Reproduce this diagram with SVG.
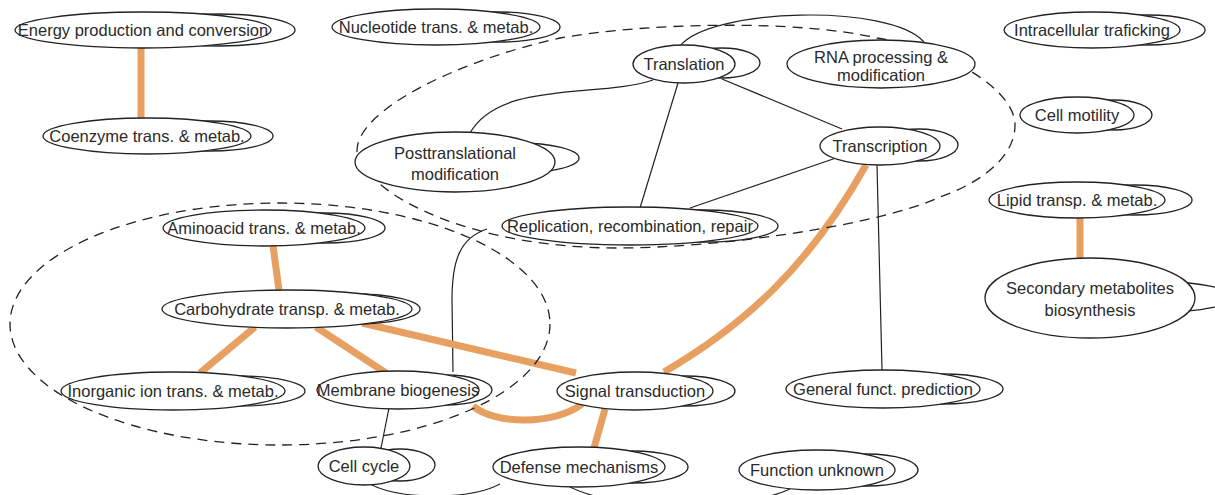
<svg xmlns="http://www.w3.org/2000/svg" width="1215" height="495" viewBox="0 0 1215 495">
<style>
.bg{fill:#ffffff}
.main{fill:#ffffff;stroke:#222;stroke-width:1.3}
.loop{fill:none;stroke:#222;stroke-width:1.3}
.lbl{font-family:"Liberation Sans",Arial,sans-serif;font-size:16.5px;fill:#2a2a2a;text-anchor:middle}
.thin{fill:none;stroke:#222;stroke-width:1.2}
.thick{fill:none;stroke:#E8A062;stroke-width:7}
.cluster{fill:none;stroke:#222;stroke-width:1.3;stroke-dasharray:10 7}
</style>
<rect class="bg" x="0" y="0" width="1215" height="495"/>
<g id="connectors">
<path class="thin" d="M653,80 C600,98 500,80 470,133"/>
<path class="thin" d="M678,83 L640,208"/>
<path class="thin" d="M722,79 L842,129"/>
<path class="thin" d="M680,46 C710,8 890,3 924,42"/>
<path class="thin" d="M836,158 L690,208"/>
<path class="thin" d="M877,165 L882,370"/>
<path class="thin" d="M487,229 C460,238 452,260 452,300 L453,372"/>
<path class="thin" d="M389,408 L381,448"/>
<path class="thin" d="M370,484 C400,500 470,500 500,484"/>
<path class="thin" d="M570,487 C620,512 740,512 790,489"/>
<path class="thick" d="M141,48 L141,118"/>
<path class="thick" d="M273,246 L279,290"/>
<path class="thick" d="M255,327 L200,373"/>
<path class="thick" d="M316,327 L386,373"/>
<path class="thick" d="M362,323 L576,373"/>
<path class="thick" d="M473,406 C495,425 555,425 582,404"/>
<path class="thick" d="M866,165 C810,265 745,325 664,372"/>
<path class="thick" d="M605,409 L594,448"/>
<path class="thick" d="M1080,218 L1080,259"/>
</g>
<g id="clusters">
<ellipse class="cluster" cx="280" cy="324" rx="270" ry="121"/>
<path class="cluster" d="M357,152 C355,110 460,60 560,38 C650,22 800,20 877,38 C950,50 1015,90 1015,125 C1015,160 975,185 940,197 C880,225 720,248 617,248 C480,248 370,200 357,152 Z"/>
</g>
<g id="energy"><ellipse class="loop" cx="219" cy="30" rx="76" ry="16"/><ellipse class="main" cx="143" cy="30" rx="128" ry="18"/><text class="lbl" x="143" y="36">Energy production and conversion</text></g>
<g id="coenzyme"><ellipse class="loop" cx="210" cy="136" rx="63" ry="15"/><ellipse class="main" cx="147" cy="136" rx="104" ry="18"/><text class="lbl" x="147" y="142">Coenzyme trans. &amp; metab.</text></g>
<g id="nucleotide"><ellipse class="loop" cx="498" cy="27" rx="62" ry="15"/><ellipse class="main" cx="436" cy="27" rx="104" ry="18"/><text class="lbl" x="436" y="33">Nucleotide trans. &amp; metab.</text></g>
<g id="translation"><ellipse class="loop" cx="722" cy="63" rx="38" ry="15"/><ellipse class="main" cx="684" cy="64" rx="51" ry="19"/><text class="lbl" x="684" y="70">Translation</text></g>
<g id="rna"><ellipse class="main" cx="881" cy="64" rx="94" ry="24"/><text class="lbl" x="881" y="63">RNA processing &amp;</text><text class="lbl" x="881" y="81">modification</text></g>
<g id="intracellular"><ellipse class="loop" cx="1148" cy="30" rx="57" ry="15"/><ellipse class="main" cx="1092" cy="30" rx="88" ry="18"/><text class="lbl" x="1092" y="36">Intracellular traficking</text></g>
<g id="motility"><ellipse class="loop" cx="1114" cy="115" rx="38" ry="15"/><ellipse class="main" cx="1077" cy="115" rx="57" ry="18"/><text class="lbl" x="1077" y="121">Cell motility</text></g>
<g id="transcription"><ellipse class="loop" cx="919" cy="145" rx="39" ry="16"/><ellipse class="main" cx="880" cy="146" rx="60" ry="19"/><text class="lbl" x="880" y="152">Transcription</text></g>
<g id="posttranslational"><ellipse class="loop" cx="517" cy="158" rx="62" ry="15"/><ellipse class="main" cx="455" cy="162" rx="100" ry="30"/><text class="lbl" x="455" y="159">Posttranslational</text><text class="lbl" x="455" y="180">modification</text></g>
<g id="lipid"><ellipse class="loop" cx="1135" cy="200" rx="57" ry="15"/><ellipse class="main" cx="1077" cy="200" rx="88" ry="18"/><text class="lbl" x="1077" y="206">Lipid transp. &amp; metab.</text></g>
<g id="secondary"><ellipse class="loop" cx="1162" cy="297" rx="70" ry="15"/><ellipse class="main" cx="1090" cy="298" rx="105" ry="40"/><text class="lbl" x="1090" y="294">Secondary metabolites</text><text class="lbl" x="1090" y="316">biosynthesis</text></g>
<g id="aminoacid"><ellipse class="loop" cx="325" cy="228" rx="60" ry="15"/><ellipse class="main" cx="264" cy="228" rx="101" ry="18"/><text class="lbl" x="264" y="234">Aminoacid trans. &amp; metab.</text></g>
<g id="replication"><ellipse class="loop" cx="704" cy="226" rx="74" ry="16"/><ellipse class="main" cx="630" cy="226" rx="128" ry="19"/><text class="lbl" x="630" y="232">Replication, recombination, repair</text></g>
<g id="carbohydrate"><ellipse class="loop" cx="354" cy="309" rx="66" ry="15"/><ellipse class="main" cx="287" cy="309" rx="125" ry="19"/><text class="lbl" x="287" y="315">Carbohydrate transp. &amp; metab.</text></g>
<g id="inorganic"><ellipse class="loop" cx="239" cy="391" rx="66" ry="15"/><ellipse class="main" cx="173" cy="391" rx="112" ry="19"/><text class="lbl" x="173" y="397">Inorganic ion trans. &amp; metab.</text></g>
<g id="membrane"><ellipse class="loop" cx="445" cy="390" rx="47" ry="15"/><ellipse class="main" cx="398" cy="390" rx="81" ry="19"/><text class="lbl" x="398" y="396">Membrane biogenesis</text></g>
<g id="signal"><ellipse class="loop" cx="685" cy="391" rx="50" ry="15"/><ellipse class="main" cx="635" cy="391" rx="78" ry="19"/><text class="lbl" x="635" y="397">Signal transduction</text></g>
<g id="general"><ellipse class="loop" cx="943" cy="389" rx="60" ry="15"/><ellipse class="main" cx="883" cy="389" rx="97" ry="19"/><text class="lbl" x="883" y="395">General funct. prediction</text></g>
<g id="cellcycle"><ellipse class="loop" cx="400" cy="465" rx="35" ry="16"/><ellipse class="main" cx="364" cy="466" rx="46" ry="19"/><text class="lbl" x="364" y="472">Cell cycle</text></g>
<g id="defense"><ellipse class="loop" cx="633" cy="467" rx="55" ry="16"/><ellipse class="main" cx="579" cy="467" rx="86" ry="20"/><text class="lbl" x="579" y="473">Defense mechanisms</text></g>
<g id="unknown"><ellipse class="loop" cx="867" cy="470" rx="51" ry="16"/><ellipse class="main" cx="817" cy="470" rx="78" ry="20"/><text class="lbl" x="817" y="476">Function unknown</text></g>
</svg>
